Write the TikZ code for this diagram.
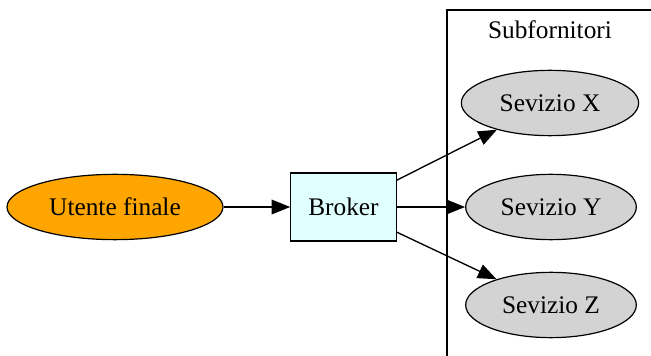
\documentclass[tikz,border=0pt]{standalone}
\usepackage{fontspec}
\setmainfont{Liberation Serif}
\usepackage{tikz}
\usetikzlibrary{arrows.meta, shapes.geometric}
\definecolor{cOrange}{HTML}{FFA500}
\definecolor{cCyan}{HTML}{E0FFFF}
\definecolor{cGray}{HTML}{D3D3D3}

\begin{document}
\begin{tikzpicture}[
  x=0.75pt, y=-0.75pt,
  every node/.style={font=\fontsize{19}{22}\selectfont, line width=0.9pt},
  user/.style={draw, ellipse, fill=cOrange, minimum width=162pt, minimum height=49pt, inner sep=0pt},
  broker/.style={draw, rectangle, fill=cCyan, minimum width=79pt, minimum height=51pt},
  service/.style={draw, ellipse, fill=cGray, minimum width=128pt, minimum height=49pt, inner sep=0pt},
  link/.style={line width=1pt, -{Triangle[length=14pt, width=11pt]}},
]
  \clip (0,0) rectangle (651,356);
  % cluster
  \draw[line width=0.9pt] (447,370) -- (447,10) -- (670,10);
  \node (sub) at (550,30) {Subfornitori};

  \node[user] (utente) at (115,207) {Utente finale};
  \node[broker] (broker) at (343.5,207) {Broker};
  \node[service, minimum width=133pt] (sx) at (550,103) {Sevizio X};
  \node[service] (sy) at (551,207) {Sevizio Y};
  \node[service] (sz) at (551,305) {Sevizio Z};

  \draw[link] (utente) -- (broker);
  \draw[link] (broker) -- (sx);
  \draw[link] (broker) -- (sy);
  \draw[link] (broker) -- (sz);
\end{tikzpicture}
\end{document}
